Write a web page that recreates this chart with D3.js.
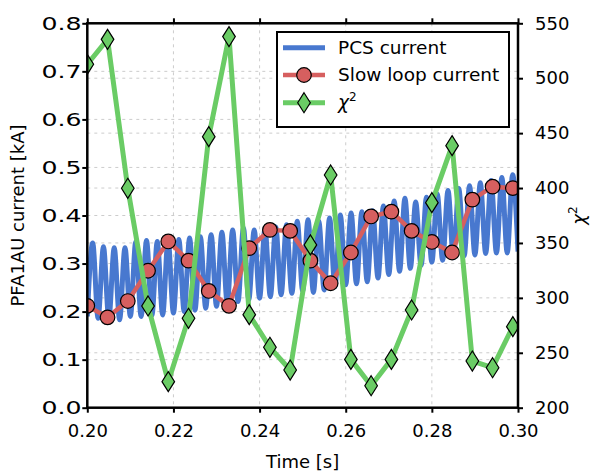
<!DOCTYPE html>
<html>
<head>
<meta charset="utf-8">
<script src="https://cdn.jsdelivr.net/npm/d3@7"></script>
<style>
  body { margin: 0; background: #fff; }
  text { font-family: "DejaVu Sans", sans-serif; fill: #000; }
</style>
</head>
<body>
<svg id="chart" width="606" height="475"></svg>
<script>
// sample times of the slow loop and chi^2 series [s]
const sampleTimes = [0.2000, 0.2047, 0.2094, 0.2141, 0.2188, 0.2235, 0.2282, 0.2329, 0.2376, 0.2424, 0.2471,
  0.2518, 0.2565, 0.2612, 0.2659, 0.2706, 0.2753, 0.2800, 0.2847, 0.2894, 0.2941, 0.2988]

// slow loop current [kA]
const slowLoopCurrent = [0.212, 0.188, 0.222, 0.285, 0.346, 0.306, 0.243, 0.212, 0.332, 0.370, 0.368,
  0.306, 0.259, 0.323, 0.398, 0.408, 0.368, 0.345, 0.323, 0.433, 0.460, 0.457]

// chi^2 (right axis)
const chiSquared = [512.7, 535.4, 399.8, 292.6, 223.7, 281.4, 446.8, 537.9, 284.7, 255.0, 234.3,
  348.2, 411.9, 244.0, 220.0, 244.0, 289.0, 386.7, 438.6, 242.5, 236.4, 273.8]

const pcsStart = 0.2
const pcsPeriod = 0.0025
const pcsTroughs = [0.190, 0.186, 0.185, 0.183, 0.190, 0.190, 0.192, 0.193, 0.197, 0.200, 0.203,
  0.207, 0.211, 0.217, 0.221, 0.225, 0.228, 0.231, 0.235, 0.238, 0.243, 0.240, 0.245, 0.252, 0.256,
  0.258, 0.262, 0.270, 0.277, 0.284, 0.290, 0.296, 0.303, 0.307, 0.312, 0.316, 0.318, 0.321, 0.322,
  0.322, 0.325]
const pcsPeaks = [0.343, 0.335, 0.333, 0.333, 0.345, 0.348, 0.346, 0.350, 0.350, 0.353, 0.356,
  0.360, 0.365, 0.370, 0.374, 0.370, 0.372, 0.376, 0.381, 0.388, 0.391, 0.388, 0.395, 0.401, 0.405,
  0.408, 0.410, 0.420, 0.430, 0.436, 0.428, 0.438, 0.445, 0.452, 0.456, 0.462, 0.468, 0.473, 0.479,
  0.485]

// axis ticks
const xTicks = [0.20, 0.22, 0.24, 0.26, 0.28, 0.30]
const leftTicks = [0.0, 0.1, 0.2, 0.3, 0.4, 0.5, 0.6, 0.7, 0.8]
const rightTicks = [200, 250, 300, 350, 400, 450, 500, 550]

const legendLabels = ['PCS current', 'Slow loop current', 'χ']

const colors = { pcs: '#4878CF', slow: '#D65F5F', chi: '#6ACC65' }

const plot = { left: 87.3, right: 518, top: 23.3, bottom: 407.7 }

const svg = d3.select('#chart')

const x = d3.scaleLinear().domain([0.2, 0.3]).range([plot.left, plot.right])
const yLeft = d3.scaleLinear().domain([0, 0.8]).range([plot.bottom, plot.top])
const yRight = d3.scaleLinear().domain([200, 550]).range([plot.bottom, plot.top])

svg.append('clipPath').attr('id', 'plot-clip')
  .append('rect')
  .attr('x', plot.left).attr('y', plot.top)
  .attr('width', plot.right - plot.left).attr('height', plot.bottom - plot.top)

// grid lines (both y axes have their own)
const grid = svg.append('g').attr('class', 'grid')
  .attr('stroke', '#cccccc').attr('stroke-width', 1).attr('stroke-dasharray', '3,4')

grid.selectAll('.gx').data(xTicks.slice(1, -1)).enter().append('line')
  .attr('x1', d => x(d)).attr('x2', d => x(d))
  .attr('y1', plot.top).attr('y2', plot.bottom)
grid.selectAll('.gl').data(leftTicks.slice(1, -1)).enter().append('line')
  .attr('x1', plot.left).attr('x2', plot.right)
  .attr('y1', d => yLeft(d)).attr('y2', d => yLeft(d))
grid.selectAll('.gr').data(rightTicks.slice(1, -1)).enter().append('line')
  .attr('x1', plot.left).attr('x2', plot.right)
  .attr('y1', d => yRight(d)).attr('y2', d => yRight(d))

// PCS current: alternate minima and maxima
const pcsPoints = []
pcsTroughs.forEach((v, i) => {
  pcsPoints.push([pcsStart + i * pcsPeriod, v])
  if (i < pcsPeaks.length) pcsPoints.push([pcsStart + (i + 0.5) * pcsPeriod, pcsPeaks[i]])
})

const marks = svg.append('g').attr('clip-path', 'url(#plot-clip)')

marks.append('path')
  .datum(pcsPoints)
  .attr('fill', 'none')
  .attr('stroke', colors.pcs)
  .attr('stroke-width', 5)
  .attr('stroke-linejoin', 'round')
  .attr('d', d3.line().x(d => x(d[0])).y(d => yLeft(d[1])).curve(d3.curveMonotoneX))

// slow loop current
const slowData = sampleTimes.map((t, i) => [t, slowLoopCurrent[i]])
marks.append('path')
  .datum(slowData)
  .attr('fill', 'none')
  .attr('stroke', colors.slow)
  .attr('stroke-width', 4.5)
  .attr('stroke-linejoin', 'round')
  .attr('d', d3.line().x(d => x(d[0])).y(d => yLeft(d[1])))

marks.selectAll('.slow-dot').data(slowData).enter().append('circle')
  .attr('cx', d => x(d[0])).attr('cy', d => yLeft(d[1]))
  .attr('r', 7.3)
  .attr('fill', colors.slow).attr('stroke', '#000').attr('stroke-width', 1.2)

// chi^2 on the twin axis
const diamond = 'M0,-10L6.3,0L0,10L-6.3,0Z'
const chiData = sampleTimes.map((t, i) => [t, chiSquared[i]])
marks.append('path')
  .datum(chiData)
  .attr('fill', 'none')
  .attr('stroke', colors.chi)
  .attr('stroke-width', 5)
  .attr('stroke-linejoin', 'round')
  .attr('d', d3.line().x(d => x(d[0])).y(d => yRight(d[1])))

marks.selectAll('.chi-dot').data(chiData).enter().append('path')
  .attr('d', diamond)
  .attr('transform', d => `translate(${x(d[0])},${yRight(d[1])})`)
  .attr('fill', colors.chi).attr('stroke', '#000').attr('stroke-width', 1.2)

// axes
function styleAxis (g) {
  g.select('.domain').remove()
  g.selectAll('.tick line').attr('stroke', '#000').attr('stroke-width', 2)
  g.selectAll('.tick text').attr('font-size', 18).attr('font-family', '"DejaVu Sans", sans-serif')
}

svg.append('g')
  .attr('transform', `translate(0,${plot.bottom})`)
  .call(d3.axisBottom(x).tickValues(xTicks).tickFormat(d3.format('.2f')).tickSize(5).tickPadding(12))
  .call(styleAxis)

svg.append('g')
  .attr('transform', `translate(0,${plot.top})`)
  .call(d3.axisTop(x).tickValues(xTicks).tickFormat('').tickSize(5))
  .call(styleAxis)

// left tick labels come out wider in the reference, stretch them about their right edge
const leftAxis = svg.append('g')
  .attr('transform', `translate(${plot.left},0)`)
  .call(d3.axisLeft(yLeft).tickValues(leftTicks).tickFormat(d3.format('.1f')).tickSize(5).tickPadding(0.8))
  .call(styleAxis)
leftAxis.selectAll('.tick text')
  .attr('transform', function () {
    const tx = +d3.select(this).attr('x')
    return `translate(${tx},0) scale(1.4,1) translate(${-tx},0)`
  })

svg.append('g')
  .attr('transform', `translate(${plot.right},0)`)
  .call(d3.axisRight(yRight).tickValues(rightTicks).tickFormat(d3.format('d')).tickSize(5).tickPadding(12))
  .call(styleAxis)

// spines
svg.append('rect')
  .attr('x', plot.left).attr('y', plot.top)
  .attr('width', plot.right - plot.left).attr('height', plot.bottom - plot.top)
  .attr('fill', 'none').attr('stroke', '#000').attr('stroke-width', 2.5)

// axis labels
svg.append('text')
  .attr('x', (plot.left + plot.right) / 2).attr('y', 468)
  .attr('text-anchor', 'middle').attr('font-size', 18)
  .text('Time [s]')

svg.append('text')
  .attr('transform', `translate(24,${(plot.top + plot.bottom) / 2}) rotate(-90)`)
  .attr('text-anchor', 'middle').attr('font-size', 18)
  .text('PFA1AU current [kA]')

const chiLabel = svg.append('text')
  .attr('transform', `translate(585,${(plot.top + plot.bottom) / 2}) rotate(-90)`)
  .attr('text-anchor', 'middle').attr('font-size', 18)
chiLabel.append('tspan').attr('font-style', 'italic').text('χ')
chiLabel.append('tspan').attr('font-size', 12).attr('dy', -8).text('2')

// legend
const legend = svg.append('g')
legend.append('rect')
  .attr('x', 277).attr('y', 32).attr('width', 232).attr('height', 95)
  .attr('fill', '#fff').attr('stroke', '#000').attr('stroke-width', 2)

const rowY = [47.7, 75, 102.7]
const rowColors = [colors.pcs, colors.slow, colors.chi]
rowY.forEach((cy, i) => {
  legend.append('line')
    .attr('x1', 283).attr('x2', 325).attr('y1', cy).attr('y2', cy)
    .attr('stroke', rowColors[i]).attr('stroke-width', i === 1 ? 4.5 : 5)
  if (i === 1) {
    legend.append('circle').attr('cx', 304).attr('cy', cy).attr('r', 7.3)
      .attr('fill', colors.slow).attr('stroke', '#000').attr('stroke-width', 1.2)
  }
  if (i === 2) {
    legend.append('path').attr('d', diamond).attr('transform', `translate(304,${cy})`)
      .attr('fill', colors.chi).attr('stroke', '#000').attr('stroke-width', 1.2)
  }
  const t = legend.append('text')
    .attr('x', 338).attr('y', cy).attr('dy', '0.35em').attr('font-size', 18.5)
  if (i === 2) {
    t.append('tspan').attr('font-style', 'italic').text(legendLabels[i])
    t.append('tspan').attr('font-size', 12).attr('dy', -8).text('2')
  } else {
    t.text(legendLabels[i])
  }
})
</script>
</body>
</html>
